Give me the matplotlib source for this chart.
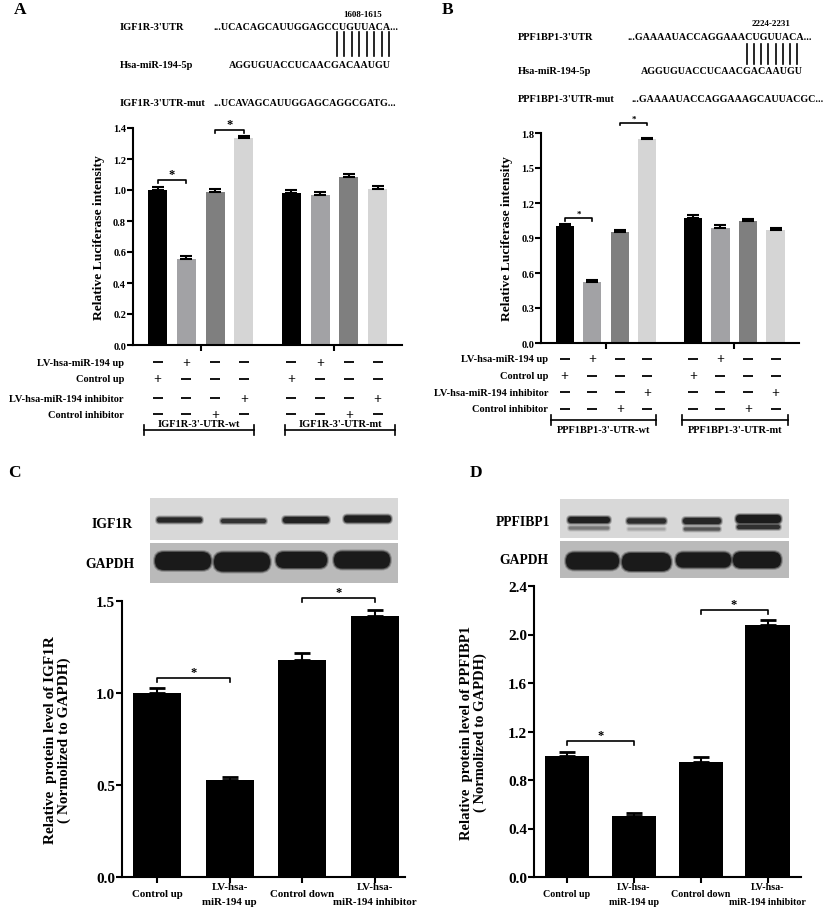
import matplotlib
matplotlib.use("Agg")
import matplotlib.pyplot as plt
from matplotlib.patches import Rectangle, FancyBboxPatch
from matplotlib.transforms import blended_transform_factory

W, H = 824, 912

# luciferase assay (panels A and B)
luc_rows = ["LV-hsa-miR-194 up", "Control up", "LV-hsa-miR-194 inhibitor", "Control inhibitor"]
luc_signs = [
    ["-", "+", "-", "-", "-", "+", "-", "-"],
    ["+", "-", "-", "-", "+", "-", "-", "-"],
    ["-", "-", "-", "+", "-", "-", "-", "+"],
    ["-", "-", "+", "-", "-", "-", "+", "-"],
]
igf1r_luc = [1.00, 0.555, 0.985, 1.335, 0.98, 0.965, 1.085, 1.005]
igf1r_luc_err = [0.02, 0.02, 0.02, 0.015, 0.02, 0.02, 0.02, 0.02]
ppf_luc = [1.00, 0.52, 0.95, 1.745, 1.07, 0.985, 1.045, 0.97]
ppf_luc_err = [0.02, 0.02, 0.02, 0.015, 0.025, 0.025, 0.02, 0.02]
luc_colors = ["#000000", "#a2a2a5", "#7f7f7f", "#d5d5d5"] * 2
luc_x = [0, 1, 2, 3, 4.65, 5.65, 6.65, 7.65]

# western blot quantification (panels C and D)
wb_groups = ["Control up", "LV-hsa-\nmiR-194 up", "Control down", "LV-hsa-\nmiR-194 inhibitor"]
igf1r_wb = [1.00, 0.525, 1.18, 1.42]
igf1r_wb_err = [0.025, 0.02, 0.04, 0.03]
ppf_wb = [1.00, 0.505, 0.95, 2.08]
ppf_wb_err = [0.03, 0.02, 0.04, 0.04]

plt.rcParams["font.family"] = ["Liberation Serif", "DejaVu Serif"]
plt.rcParams["font.weight"] = "bold"
plt.rcParams["axes.labelweight"] = "bold"
plt.rcParams["axes.linewidth"] = 1.5

fig = plt.figure(figsize=(W / 100, H / 100), dpi=100)


def add_ax(x0, y0, x1, y1):
    return fig.add_axes([x0 / W, 1 - y1 / H, (x1 - x0) / W, (y1 - y0) / H])


def fx(x):
    return x / W


def fy(y):
    return 1 - y / H


def style(ax, fs):
    ax.spines["top"].set_visible(False)
    ax.spines["right"].set_visible(False)
    ax.tick_params(direction="out", length=4, width=1.5, labelsize=fs, pad=1)
    for t in ax.get_yticklabels():
        t.set_fontweight("bold")


def bracket(ax, x1, x2, y, h, star_fs, lw=1.2):
    ax.plot([x1, x1, x2, x2], [y - h, y, y, y - h], color="k", lw=lw, clip_on=False)
    ax.text((x1 + x2) / 2, y, "*", ha="center", va="bottom", fontsize=star_fs, clip_on=False)


def seq_block(lx, sx, ys, names, seqs, pos_txt, pos_xy, lines_x, lines_y):
    for name, seq, y, x in zip(names, seqs, ys, sx):
        fig.text(fx(lx), fy(y), name, fontsize=7.5, va="center")
        fig.text(fx(x), fy(y), seq, fontsize=7.2, va="center")
    fig.text(fx(pos_xy[0]), fy(pos_xy[1]), pos_txt, fontsize=6.5, va="center", ha="center")
    n = 8
    for i in range(n):
        x = lines_x[0] + (lines_x[1] - lines_x[0]) * i / (n - 1)
        fig.add_artist(plt.Line2D([fx(x), fx(x)], [fy(lines_y[0]), fy(lines_y[1])], color="k", lw=1.2))


def luc_panel(box, vals, errs, ylim, yticks, ylab_x, brackets, star_fs,
              row_x, row_ys, grp_y, grp_spans, grp_names, grp_text_y):
    ax = add_ax(*box)
    ax.bar(luc_x, vals, width=0.66, color=luc_colors)
    ax.errorbar(luc_x, vals, yerr=[[0] * len(errs), errs], fmt="none", ecolor="k",
                elinewidth=1.5, capsize=4, capthick=1.5)
    ax.set_xlim(-0.86, 8.5)
    ax.set_ylim(*ylim)
    ax.set_yticks(yticks)
    ax.set_yticklabels([f"{t:.1f}" for t in yticks])
    ax.set_xticks([1.5, 6.15])
    ax.set_xticklabels([])
    style(ax, 7.5)
    ax.set_ylabel("Relative Luciferase intensity", fontsize=9.7)
    ax.yaxis.set_label_coords(ylab_x, 0.5)
    for (i, j, y, h) in brackets:
        bracket(ax, luc_x[i], luc_x[j], y, h, star_fs)
    tr = blended_transform_factory(ax.transData, fig.transFigure)
    for name, signs, y in zip(luc_rows, luc_signs, row_ys):
        fig.text(fx(row_x), fy(y), name, ha="right", va="center", fontsize=7.5)
        for x, s in zip(luc_x, signs):
            if s == "+":
                ax.text(x, fy(y), "+", transform=tr, ha="center", va="center",
                        fontsize=10, clip_on=False)
            else:
                ax.plot([x], [fy(y)], marker="_", ms=7.5, mew=1.3, color="k",
                        transform=tr, clip_on=False)
    for (a, b), name in zip(grp_spans, grp_names):
        ax.plot([a, b], [fy(grp_y)] * 2, color="k", lw=1.2, transform=tr, clip_on=False)
        for e in (a, b):
            ax.plot([e, e], [fy(grp_y - 5), fy(grp_y + 5)], color="k", lw=1.2,
                    transform=tr, clip_on=False)
        ax.text((a + b) / 2, fy(grp_text_y), name, transform=tr, ha="center",
                va="center", fontsize=7.5)
    return ax


def blot(box, split, bands):
    ax = add_ax(*box)
    x0, y0, x1, y1 = box
    ax.set_xlim(x0, x1)
    ax.set_ylim(y1, y0)
    ax.axis("off")
    ax.add_patch(Rectangle((x0, y0), x1 - x0, split - 1 - y0, color="#d8d8d8", lw=0))
    ax.add_patch(Rectangle((x0, split + 1.5), x1 - x0, y1 - split - 1.5, color="#bababa", lw=0))
    for (xa, xb, cy, h, c) in bands:
        for grow, alpha in ((2.0, 0.25), (1.0, 0.5), (0.0, 1.0)):
            hh = h + 2 * grow
            ax.add_patch(FancyBboxPatch((xa - grow, cy - hh / 2), xb - xa + 2 * grow, hh,
                                        boxstyle=f"round,pad=0,rounding_size={hh / 2}",
                                        color=c, alpha=alpha, lw=0))


def wb_panel(box, vals, errs, ylim, yticks, ylab, ylab_fs, ylab_x, brackets, lab_y, lab_fs):
    ax = add_ax(*box)
    x = list(range(len(vals)))
    ax.bar(x, vals, width=0.66, color="k")
    ax.errorbar(x, vals, yerr=[[0] * len(errs), errs], fmt="none", ecolor="k",
                elinewidth=1.5, capsize=6, capthick=2)
    ax.set_ylim(*ylim)
    ax.set_yticks(yticks)
    ax.set_yticklabels([f"{t:.1f}" for t in yticks])
    ax.set_xticks(x)
    ax.set_xticklabels([])
    style(ax, 11)
    tr = blended_transform_factory(ax.transData, fig.transFigure)
    for xi, name in zip(x, wb_groups):
        lines = name.split("\n")
        if len(lines) == 1:
            ax.text(xi, fy(lab_y), name, transform=tr, ha="center", va="center", fontsize=lab_fs)
        else:
            for k, line in enumerate(lines):
                ax.text(xi, fy(lab_y - 7.5 + 15 * k), line, transform=tr, ha="center",
                        va="center", fontsize=lab_fs)
    ax.set_ylabel(ylab, fontsize=ylab_fs, linespacing=1.1)
    ax.yaxis.set_label_coords(ylab_x, 0.5)
    for (i, j, y, h) in brackets:
        bracket(ax, i, j, y, h, 9)
    return ax


# panel letters
fig.text(fx(14), fy(10), "A", fontsize=12.5, va="center")
fig.text(fx(442), fy(10), "B", fontsize=12.5, va="center")
fig.text(fx(8), fy(473), "C", fontsize=12.5, va="center")
fig.text(fx(470), fy(473), "D", fontsize=12.5, va="center")

# sequence alignments
seq_block(120, [213, 229, 213], [28, 66, 103],
          ["IGF1R-3'UTR", "Hsa-miR-194-5p", "IGF1R-3'UTR-mut"],
          ["...UCACAGCAUUGGAGCCUGUUACA...", "AGGUGUACCUCAACGACAAUGU",
           "...UCAVAGCAUUGGAGCAGGCGATG..."],
          "1608-1615", (363, 15), (337, 389), (33, 57))
seq_block(518, [627, 641, 632], [38, 71, 99],
          ["PPF1BP1-3'UTR", "Hsa-miR-194-5p", "PPF1BP1-3'UTR-mut"],
          ["...GAAAAUACCAGGAAACUGUUACA...", "AGGUGUACCUCAACGACAAUGU",
           "...GAAAAUACCAGGAAAGCAUUACGC..."],
          "2224-2231", (771, 24), (747, 797), (45, 65))

luc_panel((133, 129, 402, 346), igf1r_luc, igf1r_luc_err, (0, 1.4),
          [0, 0.2, 0.4, 0.6, 0.8, 1.0, 1.2, 1.4], -0.105,
          [(0, 1, 1.065, 0.02), (2, 3, 1.39, 0.02)], 9,
          124, [363, 380, 399, 415], 431,
          [(-0.49, 3.35), (4.43, 8.26)],
          ["IGF1R-3'-UTR-wt", "IGF1R-3'-UTR-mt"], 425)

luc_panel((541, 134, 799, 344), ppf_luc, ppf_luc_err, (0, 1.8),
          [0, 0.3, 0.6, 0.9, 1.2, 1.5, 1.8], -0.11,
          [(0, 1, 1.07, 0.02), (2, 3, 1.89, 0.02)], 6.5,
          548, [360, 377, 393, 410], 421,
          [(-0.5, 3.31), (4.24, 8.09)],
          ["PPF1BP1-3'-UTR-wt", "PPF1BP1-3'-UTR-mt"], 431)

# western blots
blot((150, 499, 398, 584), 542,
     [(157, 202, 521, 5, "#262626"), (221, 266, 522, 4, "#333333"),
      (283, 329, 521, 6, "#222222"), (344, 391, 520, 7, "#1f1f1f"),
      (155, 211, 562, 18, "#1a1a1a"), (214, 270, 563, 19, "#1a1a1a"),
      (276, 327, 561, 16, "#1a1a1a"), (334, 390, 561, 17, "#1a1a1a")])
fig.text(fx(133), fy(524), "IGF1R", fontsize=9.8, ha="right", va="center")
fig.text(fx(135), fy(565), "GAPDH", fontsize=9.8, ha="right", va="center")

blot((560, 500, 789, 579), 540,
     [(568, 610, 521, 6, "#1f1f1f"), (627, 666, 522, 5, "#2c2c2c"),
      (683, 721, 522, 6, "#262626"), (736, 781, 520, 8, "#1c1c1c"),
      (569, 609, 529, 3, "#777777"), (628, 665, 530, 2, "#a5a5a5"),
      (684, 720, 530, 3, "#555555"), (737, 780, 528, 4, "#303030"),
      (566, 619, 562, 17, "#1a1a1a"), (622, 671, 563, 18, "#1a1a1a"),
      (676, 731, 561, 15, "#1a1a1a"), (733, 781, 561, 16, "#1a1a1a")])
fig.text(fx(550), fy(523), "PPFIBP1", fontsize=9.8, ha="right", va="center")
fig.text(fx(548), fy(561), "GAPDH", fontsize=9.8, ha="right", va="center")

axc = wb_panel((122, 602, 405, 878), igf1r_wb, igf1r_wb_err, (0, 1.5),
               [0, 0.5, 1.0, 1.5],
               "Relative  protein level of IGF1R\n( Normolized to GAPDH)", 11, -0.18,
               [(0, 1, 1.08, 0.02), (2, 3, 1.515, 0.02)], 895, 7.8)
axc.set_xlim(-0.48, 3.41)

axd = wb_panel((534, 587, 801, 878), ppf_wb, ppf_wb_err, (0, 2.4),
               [0, 0.4, 0.8, 1.2, 1.6, 2.0, 2.4],
               "Relative  protein level of PPFIBP1\n( Normolized to GAPDH)", 10.5, -0.175,
               [(0, 1, 1.12, 0.035), (2, 3, 2.2, 0.035)], 895, 7.2)
axd.set_xlim(-0.49, 3.5)

fig.savefig("out.png", dpi=100)
